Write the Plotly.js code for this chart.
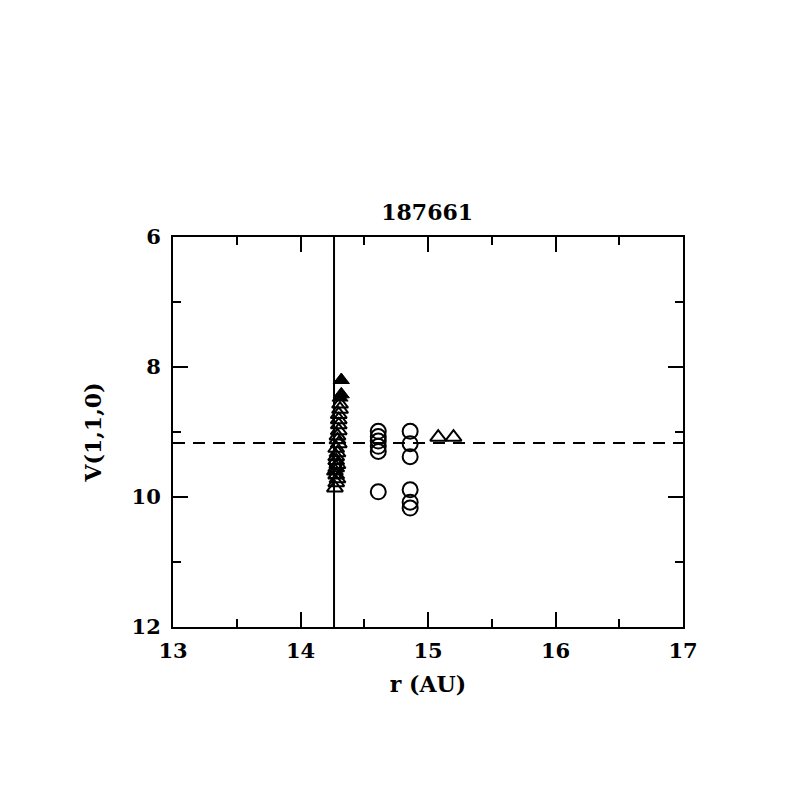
<!DOCTYPE html>
<html>
<head>
<meta charset="utf-8">
<script src="https://cdn.plot.ly/plotly-3.0.1.min.js"></script>
<style>html,body{margin:0;padding:0;background:#fff;}</style>
</head>
<body>
<div id="chart" style="width:797px;height:797px;"></div>
<script>
// Data
const titleText = "187661";
const xLabel = "r (AU)";
const yLabel = "V(1,1,0)";

const filledTriX = [14.32, 14.32, 14.31];
const filledTriY = [8.20, 8.42, 8.47];

const openTriX = [14.31, 14.31, 14.30, 14.30, 14.30, 14.30, 14.29, 14.29, 14.30, 14.28, 14.29, 14.28, 14.28, 14.29, 14.28, 14.27, 14.28, 14.29, 14.28, 14.27, 15.08, 15.20];
const openTriY = [8.57, 8.65, 8.73, 8.81, 8.89, 8.98, 9.06, 9.12, 9.18, 9.25, 9.32, 9.38, 9.44, 9.50, 9.55, 9.60, 9.66, 9.72, 9.78, 9.86, 9.08, 9.08];

const openSqX = [14.27, 14.28, 14.27];
const openSqY = [9.50, 9.57, 9.63];

const circX = [14.61, 14.61, 14.61, 14.61, 14.61, 14.61, 14.86, 14.86, 14.86, 14.86, 14.86, 14.86];
const circY = [8.99, 9.07, 9.14, 9.22, 9.30, 9.92, 8.99, 9.18, 9.38, 9.89, 10.08, 10.17];

const vLineX = [14.263, 14.263];
const vLineY = [6, 12];
const hLineX = [13, 17];
const hLineY = [9.17, 9.17];

const font = "DejaVu Serif";

const traces = [
  {x: vLineX, y: vLineY, mode: "lines", line: {color: "#000", width: 2}, hoverinfo: "skip"},
  {x: hLineX, y: hLineY, mode: "lines", line: {color: "#000", width: 2, dash: "12px,8px"}, hoverinfo: "skip"},
  {x: openTriX, y: openTriY, mode: "markers", marker: {symbol: "triangle-up-open", size: 14, color: "#000", line: {width: 2, color: "#000"}}},
  {x: openSqX, y: openSqY, mode: "markers", marker: {symbol: "square-open", size: 10, color: "#000", line: {width: 2, color: "#000"}}},
  {x: filledTriX, y: filledTriY, mode: "markers", marker: {symbol: "triangle-up", size: 14, color: "#000", line: {width: 1, color: "#000"}}},
  {x: circX, y: circY, mode: "markers", marker: {symbol: "circle-open", size: 15, color: "#000", line: {width: 2, color: "#000"}}}
];

const tfont = {family: font, size: 21, color: "#000", weight: "bold"};

const axisCommon = {
  showgrid: false, zeroline: false, showline: true, linecolor: "#000", linewidth: 2,
  mirror: "allticks", ticks: "inside", ticklen: 15, tickwidth: 2, tickcolor: "#000",
  tickfont: tfont
};

const layout = {
  width: 797, height: 797,
  margin: {l: 173, r: 114, t: 237, b: 170},
  paper_bgcolor: "#fff", plot_bgcolor: "#fff",
  showlegend: false,
  title: {text: titleText, font: {family: font, size: 22, color: "#000", weight: "bold"}, x: 0.536, xanchor: "center", y: 0.733, yanchor: "middle"},
  xaxis: Object.assign({}, axisCommon, {
    range: [13, 17], dtick: 1, tick0: 13, ticklabelstandoff: 4,
    minor: {dtick: 0.5, ticklen: 8, tickwidth: 2, tickcolor: "#000", ticks: "inside"},
    title: {text: xLabel, font: {family: font, size: 22, color: "#000", weight: "bold"}, standoff: 14}
  }),
  yaxis: Object.assign({}, axisCommon, {
    range: [12, 6], dtick: 2, tick0: 6, ticklabelstandoff: 6,
    minor: {dtick: 1, ticklen: 8, tickwidth: 2, tickcolor: "#000", ticks: "inside"},
    title: {text: yLabel, font: {family: font, size: 22, color: "#000", weight: "bold"}, standoff: 24}
  })
};

Plotly.newPlot("chart", traces, layout, {displayModeBar: false, staticPlot: true});
</script>
</body>
</html>
